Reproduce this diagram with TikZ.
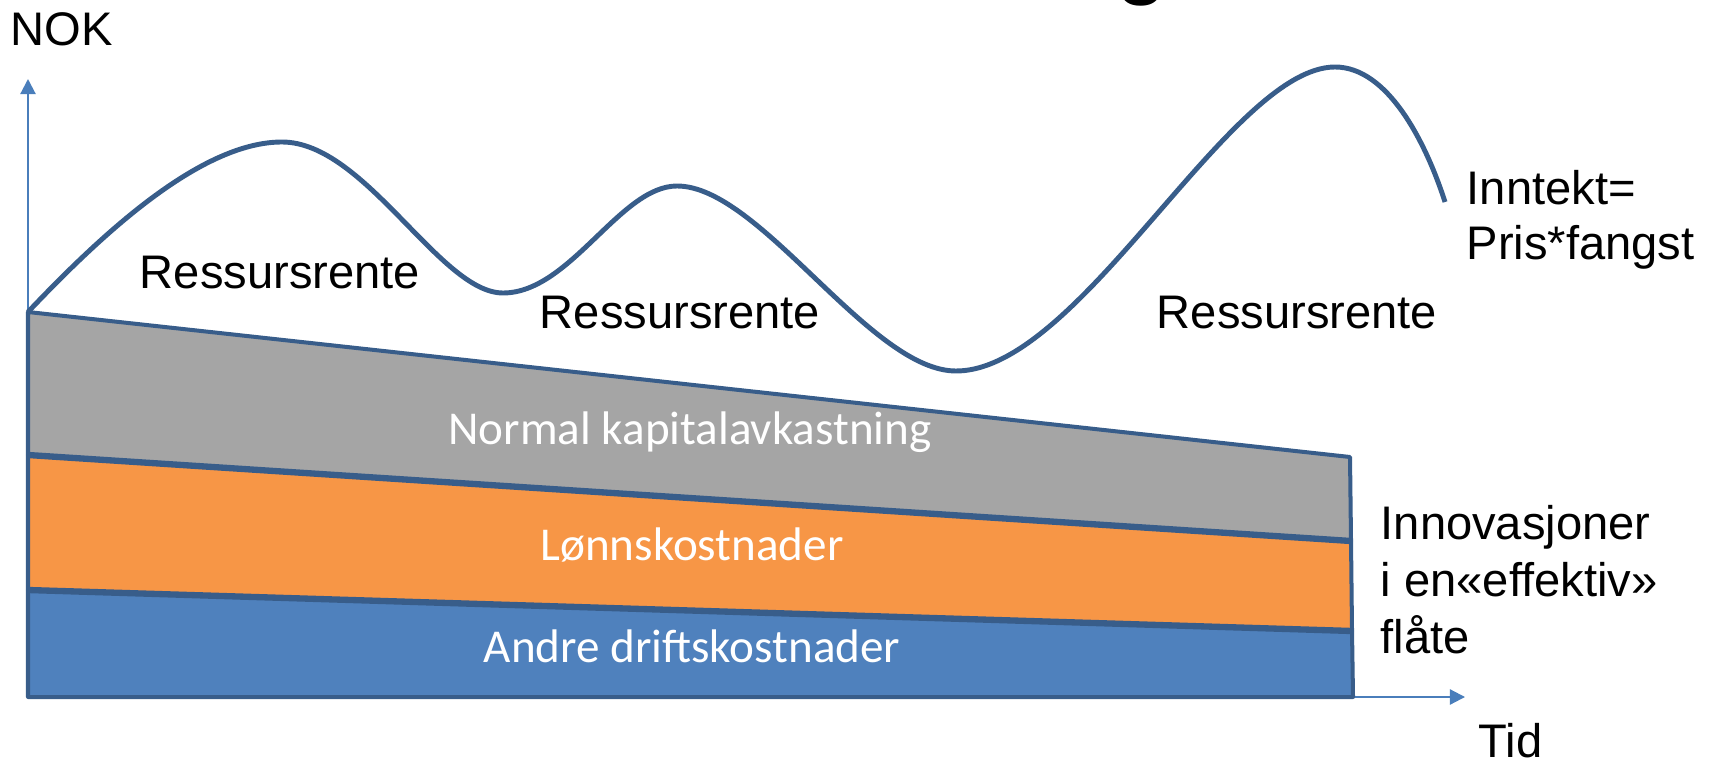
\documentclass[tikz,border=0pt]{standalone}
\usepackage{fontspec}
\setmainfont{Liberation Sans}
\newfontfamily\calibri{Carlito}
\usetikzlibrary{arrows.meta}
\definecolor{outline}{HTML}{385D8A}
\definecolor{axisblue}{HTML}{4A7EBB}
\definecolor{capgray}{HTML}{A5A5A5}
\definecolor{wageorange}{HTML}{F79646}
\definecolor{costblue}{HTML}{4F81BD}
\tikzset{
	lbl/.style={inner sep=0pt, anchor=base, font=\fontsize{13.4}{16.2}\selectfont},
	inlbl/.style={inner sep=0pt, anchor=base, text=white, font=\calibri\fontsize{13.4}{16}\selectfont},
	band/.style={draw=outline, line width=1.14pt, line join=round},
	axis/.style={axisblue, line width=0.6pt, -{Triangle[length=4.3pt, width=4.3pt]}}
}

\begin{document}
\begin{tikzpicture}[x=0.01cm, y=-0.01cm]
			\useasboundingbox (0, 0) rectangle (1713, 761);
			\coordinate (o) at (28, 697);
			\coordinate (ytop) at (28, 79);
			\coordinate (xend) at (1465, 697);
			\draw[axis] (o) -- (ytop);
			\draw[axis] (o) -- (xend);
			\coordinate (tl) at (28, 312);
			\coordinate (tr) at (1350, 457);
			\coordinate (ml) at (28, 455);
			\coordinate (mr) at (1351, 541);
			\coordinate (ll) at (28, 590);
			\coordinate (lr) at (1352, 631);
			\coordinate (bl) at (28, 697);
			\coordinate (br) at (1353, 697);
			\filldraw[band, fill=costblue] (ll) -- (lr) -- (br) -- (bl) -- cycle;
			\filldraw[band, fill=wageorange] (ml) -- (mr) -- (lr) -- (ll) -- cycle;
			\filldraw[band, fill=capgray] (tl) -- (tr) -- (mr) -- (ml) -- cycle;
			\draw[outline, line width=1.8pt] (ml) -- (mr) (ll) -- (lr);
			\coordinate (p1) at (282, 142);
			\coordinate (v1) at (503, 293);
			\coordinate (p2) at (677, 186);
			\coordinate (v2) at (956, 371);
			\coordinate (p3) at (1335, 67);
			\coordinate (e) at (1445, 202);
			\draw[outline, line width=1.4pt] (tl) .. controls (100, 236) and (200, 142) .. (p1)
				.. controls (365, 142) and (440, 293) .. (v1)
				.. controls (570, 293) and (620, 186) .. (p2)
				.. controls (760, 186) and (870, 371) .. (v2)
				.. controls (1080, 371) and (1230, 67) .. (p3)
				.. controls (1387, 67) and (1425, 140) .. (e);
			\node[anchor=base, inner sep=0pt, font=\fontsize{27}{32}\selectfont] (title) at (1142, -13) {g};
			\node[lbl] (nok) at (62, 46) {NOK};
			\node[lbl] (rr1) at (280, 288) {Ressursrente};
			\node[lbl] (rr2) at (680, 329) {Ressursrente};
			\node[lbl] (rr3) at (1297, 329) {Ressursrente};
			\node[lbl, anchor=base west, align=left, font=\fontsize{13.4}{15.7}\selectfont] (inntekt) at (1466, 260) {Inntekt=\\Pris*fangst};
			\node[lbl, anchor=base west, align=left] (innov) at (1380, 653) {Innovasjoner\\i en«effektiv»\\flåte};
			\node[lbl, anchor=base west] (tid) at (1478, 757) {Tid};
			\node[inlbl] (kap) at (690, 444) {Normal kapitalavkastning};
			\node[inlbl] (lonn) at (692, 560) {Lønnskostnader};
			\node[inlbl] (drift) at (692, 662) {Andre driftskostnader};
		\end{tikzpicture}
\end{document}
